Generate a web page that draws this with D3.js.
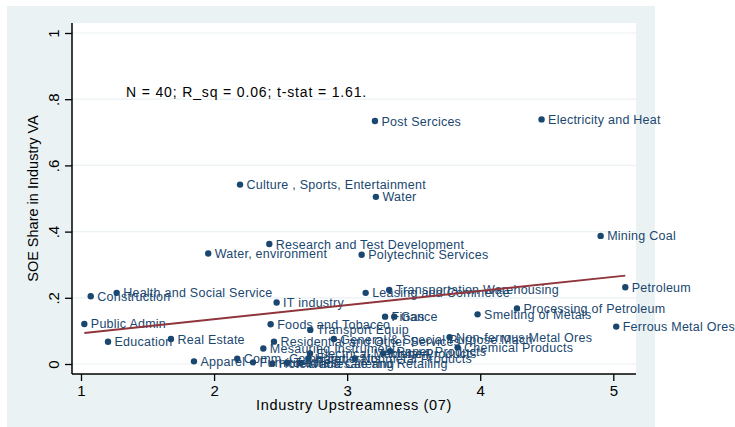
<!DOCTYPE html>
<html>
<head>
<meta charset="utf-8">
<script src="https://cdn.jsdelivr.net/npm/d3@7"></script>
<style>
  body { margin: 0; background: white; }
  text { font-family: "Liberation Sans", Arial, sans-serif; }
</style>
</head>
<body>
<div id="chart"></div>
<script>
// industries, upstreamness (x) and SOE share (y)
const industries = [
  "Post Sercices", "Electricity and Heat", "Culture , Sports, Entertainment", "Water",
  "Research and Test Development", "Water, environment", "Polytechnic Services", "Mining Coal",
  "Petroleum", "Processing of Petroleum", "Ferrous Metal Ores", "Smelting of Metals",
  "Non-ferrous Metal Ores", "Chemical Products", "Transportation Warehousing", "Leasing and Commerce",
  "Finance", "Gas", "IT industry", "Foods and Tobacco",
  "Transport Equip", "Residential and Other Services", "Mesauring Instrument", "General & Special Purpose Mach",
  "Health and Social Service", "Construction", "Public Admin", "Education",
  "Real Estate", "Apparel", "Comm. Computer", "Furniture",
  "Hotels and Catering", "Textiles", "Wholesale and Retailing", "Handicrafts",
  "Electrical Machinery", "Nonmetal Products", "Metal Products", "Paper Products"
];
const upstreamness = [
  3.209, 4.461, 2.195, 3.216,
  2.415, 1.956, 3.109, 4.905,
  5.09, 4.276, 5.022, 3.98,
  3.77, 3.83, 3.316, 3.139,
  3.285, 3.354, 2.470, 2.425,
  2.723, 2.450, 2.37, 2.90,
  1.268, 1.073, 1.025, 1.203,
  1.676, 1.849, 2.174, 2.293,
  2.438, 2.55, 2.65, 2.708,
  2.721, 3.059, 3.271, 3.322
];
const soeShare = [
  0.734, 0.739, 0.542, 0.505,
  0.3625, 0.334, 0.330, 0.387,
  0.232, 0.168, 0.113, 0.150,
  0.081, 0.050, 0.2236, 0.215,
  0.143, 0.143, 0.186, 0.120,
  0.103, 0.0675, 0.047, 0.0755,
  0.215, 0.2045, 0.121, 0.067,
  0.0755, 0.008, 0.016, 0.005,
  0.001, 0.004, 0.003, 0.017,
  0.032, 0.017, 0.032, 0.039
];
const xTicks = [1, 2, 3, 4, 5];
const yTicks = [0, 0.2, 0.4, 0.6, 0.8, 1];
// fitted line end points
const fitX = [1.025, 5.09];
const fitY = [0.094, 0.267];
const note = "N = 40; R_sq = 0.06; t-stat = 1.61.";

const width = 735, height = 427;
const plot = { left: 72, right: 636, top: 23, bottom: 374 };

const svg = d3.select("#chart")
  .append("svg")
  .attr("width", width)
  .attr("height", height);

// stata style outer background
svg.append("rect")
  .attr("x", 7).attr("y", 6)
  .attr("width", 648).attr("height", height - 6)
  .attr("fill", "#eaf2f3");

svg.append("rect")
  .attr("x", plot.left).attr("y", plot.top)
  .attr("width", plot.right - plot.left).attr("height", plot.bottom - plot.top)
  .attr("fill", "white");

const x = d3.scaleLinear().domain([1, 5]).range([81, 613.3]);
const y = d3.scaleLinear().domain([0, 1]).range([364, 33]);

// grid
svg.append("g")
  .selectAll("line")
  .data(yTicks)
  .join("line")
  .attr("x1", plot.left).attr("x2", plot.right)
  .attr("y1", d => y(d)).attr("y2", d => y(d))
  .attr("stroke", "#eaf2f3")
  .attr("stroke-width", 1.2);

const fmtY = d => (d === 0 || d === 1) ? String(d) : d3.format(".1f")(d).replace(/^0/, "");

const yAxis = svg.append("g")
  .attr("transform", `translate(${plot.left},0)`)
  .call(d3.axisLeft(y).tickValues(yTicks).tickSize(7).tickFormat(fmtY));
yAxis.select(".domain").remove();
yAxis.selectAll("line").attr("stroke", "black").attr("stroke-width", 1.3);
yAxis.selectAll("text")
  .attr("transform", "rotate(-90)")
  .attr("x", 0).attr("y", -13).attr("dy", 0)
  .style("text-anchor", "middle")
  .style("font-size", "15px")
  .attr("fill", "black");

const xAxis = svg.append("g")
  .attr("transform", `translate(0,${plot.bottom})`)
  .call(d3.axisBottom(x).tickValues(xTicks).tickSize(7).tickPadding(4).tickFormat(d3.format("d")));
xAxis.select(".domain").remove();
xAxis.selectAll("line").attr("stroke", "black").attr("stroke-width", 1.3);
xAxis.selectAll("text").style("font-size", "15px").attr("fill", "black");

// axis lines
svg.append("line")
  .attr("x1", plot.left).attr("x2", plot.left)
  .attr("y1", plot.top).attr("y2", plot.bottom)
  .attr("stroke", "black").attr("stroke-width", 1.5);
svg.append("line")
  .attr("x1", plot.left).attr("x2", plot.right)
  .attr("y1", plot.bottom).attr("y2", plot.bottom)
  .attr("stroke", "black").attr("stroke-width", 1.5);

// axis titles
svg.append("text")
  .attr("transform", `translate(33,${(plot.top + plot.bottom) / 2}) rotate(-90)`)
  .attr("text-anchor", "middle")
  .attr("dy", "0.35em")
  .style("font-size", "14.5px")
  .text("SOE Share in Industry VA");

svg.append("text")
  .attr("x", (plot.left + plot.right) / 2)
  .attr("y", 405)
  .attr("text-anchor", "middle")
  .attr("dy", "0.35em")
  .style("font-size", "14.5px")
  .style("letter-spacing", "0.65px")
  .text("Industry Upstreamness (07)");

// points
const points = industries.map((name, i) => ({ name, up: upstreamness[i], soe: soeShare[i] }));

svg.append("g")
  .selectAll("circle")
  .data(points)
  .join("circle")
  .attr("cx", d => x(d.up))
  .attr("cy", d => y(d.soe))
  .attr("r", 3.2)
  .attr("fill", "#1a476f");

svg.append("g")
  .selectAll("text")
  .data(points)
  .join("text")
  .attr("x", d => x(d.up) + 6.5)
  .attr("y", d => y(d.soe))
  .attr("dy", "0.36em")
  .style("font-size", "12.5px")
  .style("letter-spacing", "0.25px")
  .attr("fill", "#1a476f")
  .text(d => d.name);

// fitted line
svg.append("path")
  .datum(fitX.map((v, i) => [v, fitY[i]]))
  .attr("d", d3.line().x(d => x(d[0])).y(d => y(d[1])))
  .attr("stroke", "#90353b")
  .attr("stroke-width", 2)
  .attr("fill", "none");

svg.append("text")
  .attr("x", 126)
  .attr("y", 97)
  .style("font-size", "14px")
  .style("letter-spacing", "0.85px")
  .text(note);
</script>
</body>
</html>
